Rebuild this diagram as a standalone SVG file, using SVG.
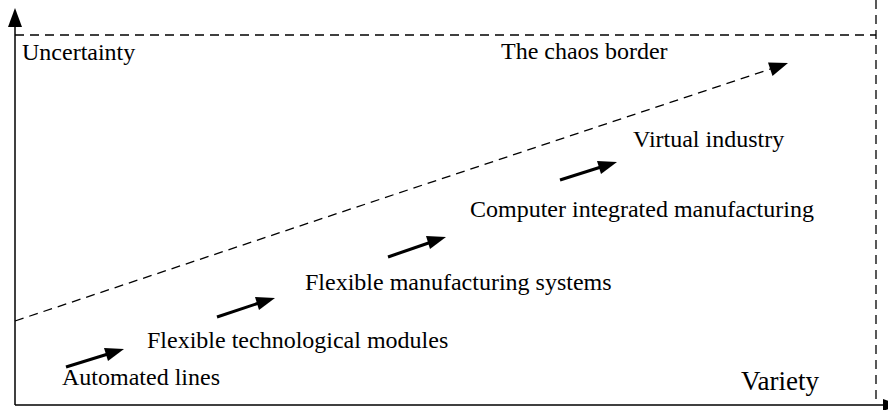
<svg xmlns="http://www.w3.org/2000/svg" width="888" height="410" viewBox="0 0 888 410">
<style>
.axis{stroke:#000;stroke-width:1.5;fill:none}
.dash{stroke:#000;stroke-width:1.3;fill:none;stroke-dasharray:9 6}
.arr{stroke:#000;stroke-width:3;fill:none}
.head{fill:#000}
</style>
<g id="frame">
<line class="dash" x1="15" y1="35" x2="876" y2="35"/>
<line class="dash" x1="876" y1="0" x2="876" y2="405"/>
</g>
<g id="axes">
<line class="axis" x1="15" y1="405" x2="15" y2="24"/>
<polygon class="head" points="15,8 8,27 22,27"/>
<line class="axis" x1="15" y1="405" x2="886" y2="405"/>
<polygon class="head" points="883,399 900,405 883,411"/>
</g>
<g id="connectors">
<line class="dash" x1="15" y1="321" x2="772" y2="68.5" stroke-dasharray="8 5"/>
<polygon class="head" points="788,63 768,62.5 772.5,76"/>
<line class="arr" x1="66" y1="367" x2="108" y2="354"/>
<polygon class="head" points="124,349 104,348 108,361"/>
<line class="arr" x1="217" y1="317" x2="259" y2="303"/>
<polygon class="head" points="275,298 255,297 259,310"/>
<line class="arr" x1="388" y1="257" x2="430" y2="242.5"/>
<polygon class="head" points="446,237 426,236 430,249"/>
<line class="arr" x1="560" y1="180" x2="601" y2="167"/>
<polygon class="head" points="617,162 597,161 601,174"/>
</g>
<g font-family="'Liberation Serif', 'Times New Roman', 'DejaVu Serif', serif" font-size="24" fill="#000">
<g id="uncertainty"><text x="22" y="60">Uncertainty</text></g>
<g id="chaos"><text x="501" y="59">The chaos border</text></g>
<g id="virtual"><text x="633" y="147">Virtual industry</text></g>
<g id="cim"><text x="470" y="217">Computer integrated manufacturing</text></g>
<g id="fms"><text x="305" y="290">Flexible manufacturing systems</text></g>
<g id="ftm"><text x="147" y="348">Flexible technological modules</text></g>
<g id="automated"><text x="62" y="385">Automated lines</text></g>
<g id="variety"><text x="741" y="390" font-size="27">Variety</text></g>
</g>
</svg>
